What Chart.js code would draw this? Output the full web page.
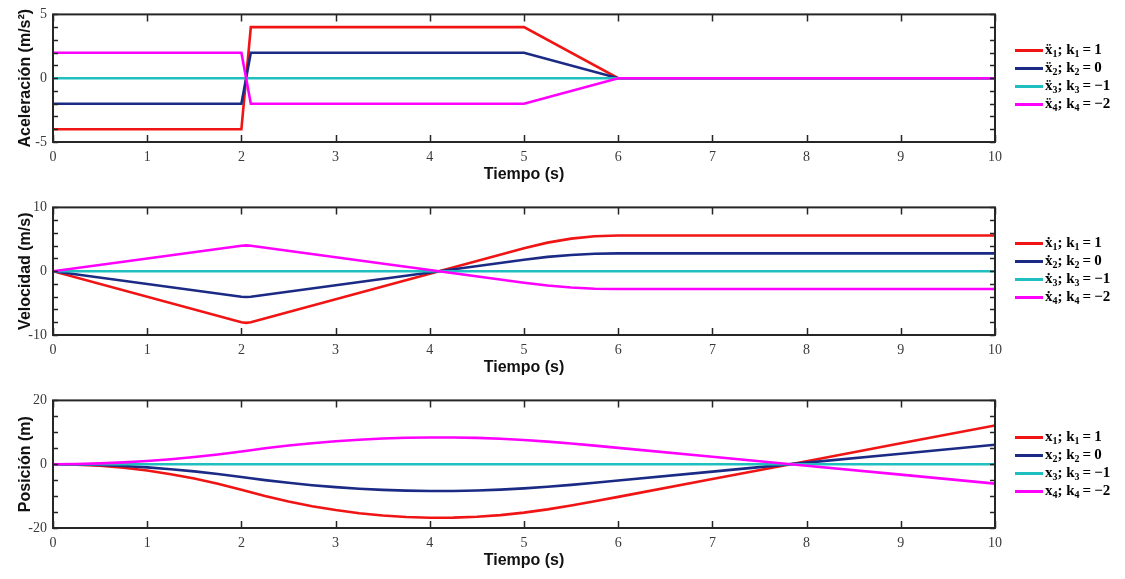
<!DOCTYPE html>
<html><head><meta charset="utf-8">
<script src="https://cdn.jsdelivr.net/npm/chart.js@4.4.0/dist/chart.umd.min.js"></script>
<style>
body{margin:0;background:#fff;width:1125px;height:579px;overflow:hidden;position:relative;}
.panel{position:absolute;left:0;width:1125px;height:193px;}
.legend{position:absolute;left:1015px;font:bold 15px "Liberation Serif","DejaVu Serif",serif;color:#000;}
.row{height:18px;display:flex;align-items:center;white-space:nowrap;}
.sw{width:28px;height:3px;margin-right:2px;}
.eq{margin:0 3px;}
sub{font-size:10px;vertical-align:-3px;}
</style>
</head><body>
<div class="panel" style="top:0"><canvas id="c1" width="1125" height="193"></canvas></div>
<div class="panel" style="top:193px"><canvas id="c2" width="1125" height="193"></canvas></div>
<div class="panel" style="top:386px"><canvas id="c3" width="1125" height="193"></canvas></div>
<div id="lg1" class="legend" style="top:41px"></div>
<div id="lg2" class="legend" style="top:234px"></div>
<div id="lg3" class="legend" style="top:428px"></div>
<script>
// ---- Data ----
const tAcc = [0, 2, 2.1, 5, 6, 10];
const acc1 = [-4, -4, 4, 4, 0, 0];
const acc2 = [-2, -2, 2, 2, 0, 0];
const acc3 = [0, 0, 0, 0, 0, 0];
const acc4 = [2, 2, -2, -2, 0, 0];

const tVel = [0, 2, 2.05, 2.1, 5, 5.25, 5.5, 5.75, 6, 10];
const vel1 = [0, -8, -8.1, -8, 3.6, 4.48, 5.1, 5.48, 5.6, 5.6];
const vel2 = [0, -4, -4.05, -4, 1.8, 2.24, 2.55, 2.74, 2.8, 2.8];
const vel3 = [0, 0, 0, 0, 0, 0, 0, 0, 0, 0];
const vel4 = [0, 4, 4.05, 4, -1.8, -2.24, -2.55, -2.74, -2.8, -2.8];

const tPos = [0, 0.25, 0.5, 0.75, 1, 1.25, 1.5, 1.75, 2, 2.1, 2.25, 2.5, 2.75, 3, 3.25, 3.5, 3.75, 4, 4.25, 4.5, 4.75, 5, 5.25, 5.5, 5.75, 6, 7, 8, 9, 10];
const pos1 = [0, -0.13, -0.5, -1.13, -2, -3.13, -4.5, -6.13, -8, -8.8, -9.96, -11.68, -13.16, -14.38, -15.36, -16.08, -16.56, -16.78, -16.76, -16.48, -15.96, -15.18, -14.17, -12.96, -11.64, -10.25, -4.65, 0.95, 6.55, 12.15];
const pos2 = [0, -0.06, -0.25, -0.56, -1, -1.56, -2.25, -3.06, -4, -4.4, -4.98, -5.84, -6.58, -7.19, -7.68, -8.04, -8.28, -8.39, -8.38, -8.24, -7.98, -7.59, -7.08, -6.48, -5.82, -5.13, -2.33, 0.48, 3.28, 6.08];
const pos3 = [0, 0, 0, 0, 0, 0, 0, 0, 0, 0, 0, 0, 0, 0, 0, 0, 0, 0, 0, 0, 0, 0, 0, 0, 0, 0, 0, 0, 0, 0];
const pos4 = [0, 0.06, 0.25, 0.56, 1, 1.56, 2.25, 3.06, 4, 4.4, 4.98, 5.84, 6.58, 7.19, 7.68, 8.04, 8.28, 8.39, 8.38, 8.24, 7.98, 7.59, 7.08, 6.48, 5.82, 5.13, 2.33, -0.48, -3.28, -6.08];

const xTicks = [0, 1, 2, 3, 4, 5, 6, 7, 8, 9, 10];
const colors = ['#f01414', '#1a2a85', '#1fbfbf', '#ff00ff'];
const ks = ['1', '0', '\u22121', '\u22122'];

// ---- Helpers ----
const framePlugin = {
  id: 'frame',
  afterDatasetsDraw(chart) {
    const {ctx, chartArea: {left, right, top, bottom}, scales: {x, y}} = chart;
    ctx.save();
    ctx.strokeStyle = '#262626';
    ctx.lineWidth = 1.5;
    ctx.beginPath();
    x.ticks.forEach(tk => {
      const px = Math.round(x.getPixelForValue(tk.value)) + 0.5;
      ctx.moveTo(px, bottom); ctx.lineTo(px, bottom - 7);
      ctx.moveTo(px, top); ctx.lineTo(px, top + 7);
    });
    y.ticks.forEach(tk => {
      const py = Math.round(y.getPixelForValue(tk.value)) + 0.5;
      ctx.moveTo(left, py); ctx.lineTo(left + 5, py);
      ctx.moveTo(right, py); ctx.lineTo(right - 5, py);
    });
    ctx.stroke();
    ctx.lineWidth = 2;
    ctx.strokeRect(left, top, right - left, bottom - top);
    ctx.restore();
  }
};

function makeChart(id, t, series, yMin, yMax, yStep, labelEvery, yTitle) {
  const datasets = series.map((s, i) => ({
    data: t.map((tv, j) => ({x: tv, y: s[j]})),
    borderColor: colors[i],
    borderWidth: 2.6,
    pointRadius: 0,
    tension: 0,
    fill: false,
    order: 3 - i
  }));
  const tickFont = {family: '"Liberation Serif","DejaVu Serif",serif', size: 14};
  const titleFont = {family: '"Liberation Sans",Arial,sans-serif', size: 16, weight: 'bold'};
  new Chart(document.getElementById(id), {
    type: 'line',
    data: {datasets},
    plugins: [framePlugin],
    options: {
      responsive: false,
      animation: false,
      layout: {padding: {top: 12, right: 130, bottom: 0, left: 0}},
      plugins: {legend: {display: false}, tooltip: {enabled: false}},
      scales: {
        x: {
          type: 'linear', min: 0, max: 10,
          grid: {display: false, drawTicks: false}, border: {display: false},
          afterBuildTicks(s) { s.ticks = xTicks.map(v => ({value: v})); },
          ticks: {font: tickFont, color: '#3a3a3a', padding: 7, maxRotation: 0, autoSkip: false,
                  callback: v => String(v)},
          title: {display: true, text: 'Tiempo (s)', font: titleFont, color: '#111', padding: {top: 0, bottom: 9}},
          afterFit(s) { s.height = 51; }
        },
        y: {
          type: 'linear', min: yMin, max: yMax,
          grid: {display: false, drawTicks: false}, border: {display: false},
          ticks: {stepSize: yStep, autoSkip: false, font: tickFont, color: '#3a3a3a', padding: 6,
                  callback: v => (Math.abs(v % labelEvery) < 1e-9 ? String(v) : '')},
          title: {display: true, text: yTitle, font: titleFont, color: '#111', padding: {top: 16, bottom: 0}},
          afterFit(s) { s.width = 53; }
        }
      }
    }
  });
}

function makeLegend(id, sym) {
  const el = document.getElementById(id);
  colors.forEach((c, i) => {
    const row = document.createElement('div');
    row.className = 'row';
    row.innerHTML = '<span class="sw" style="background:' + c + '"></span><span>' + sym + '<sub>' + (i + 1) +
      '</sub>; k<sub>' + (i + 1) + '</sub><span class="eq">=</span>' + ks[i] + '</span>';
    el.appendChild(row);
  });
}

makeChart('c1', tAcc, [acc1, acc2, acc3, acc4], -5, 5, 1, 5, 'Aceleración (m/s²)');
makeChart('c2', tVel, [vel1, vel2, vel3, vel4], -10, 10, 2, 10, 'Velocidad (m/s)');
makeChart('c3', tPos, [pos1, pos2, pos3, pos4], -20, 20, 5, 20, 'Posición (m)');
makeLegend('lg1', '\u1E8D');
makeLegend('lg2', '\u1E8B');
makeLegend('lg3', 'x');
</script>
</body></html>
